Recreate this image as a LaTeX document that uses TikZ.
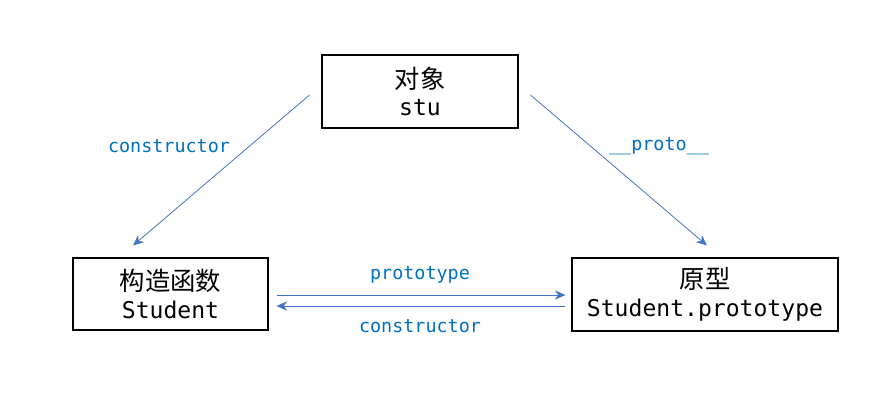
\documentclass[tikz,border=0pt]{standalone}
\usepackage{fontspec}
\setmonofont{DejaVu Sans Mono}
\newfontfamily\cjk{Noto Sans CJK SC}
\definecolor{linkblue}{HTML}{4472C4}
\definecolor{labelblue}{HTML}{0070C0}
\tikzset{
    box/.style={draw, thick, align=center, inner sep=0pt},
    link/.style={linkblue, line width=0.6pt, -{Stealth[length=8pt,width=7pt]}},
    lbl/.style={labelblue, font=\fontsize{13.8}{16}\selectfont\ttfamily}
}
\usetikzlibrary{arrows.meta}
\newcommand{\boxtext}[2]{{\cjk\fontsize{19}{22.5}\selectfont #1}\\[5pt]{\ttfamily\fontsize{17.3}{22.5}\selectfont #2}}
\begin{document}
\begin{tikzpicture}[x=0.75pt, y=-0.75pt]
    \useasboundingbox (0,0) rectangle (890,397);

    \node[box, minimum width=196*0.75pt, minimum height=73*0.75pt] (obj) at (420,91.5) {\boxtext{对象}{stu}};
    \node[box, minimum width=195*0.75pt, minimum height=72*0.75pt] (ctor) at (170.5,294) {\boxtext{构造函数}{Student}};
    \node[box, minimum width=266*0.75pt, minimum height=73*0.75pt] (proto) at (705,294.5) {\boxtext{原型}{Student.prototype}};

    \draw[link] ([shift={(-12,3.5)}]obj.west) -- ([shift={(-37.5,-12)}]ctor.north);
    \draw[link] ([shift={(12,3.5)}]obj.east) -- ([shift={(2,-12)}]proto.north);
    \draw[link] ([shift={(8,1)}]ctor.east) -- ([shift={(-6,0.5)}]proto.west);
    \draw[link] ([shift={(-6,11.5)}]proto.west) -- ([shift={(8,12)}]ctor.east);

    \node[lbl] (l1) at (169,146) {constructor};
    \node[lbl] (l2) at (659,146) {\_\_proto\_\_};
    \node[lbl] (l3) at (420,275) {prototype};
    \node[lbl] (l4) at (420,326) {constructor};
\end{tikzpicture}
\end{document}
